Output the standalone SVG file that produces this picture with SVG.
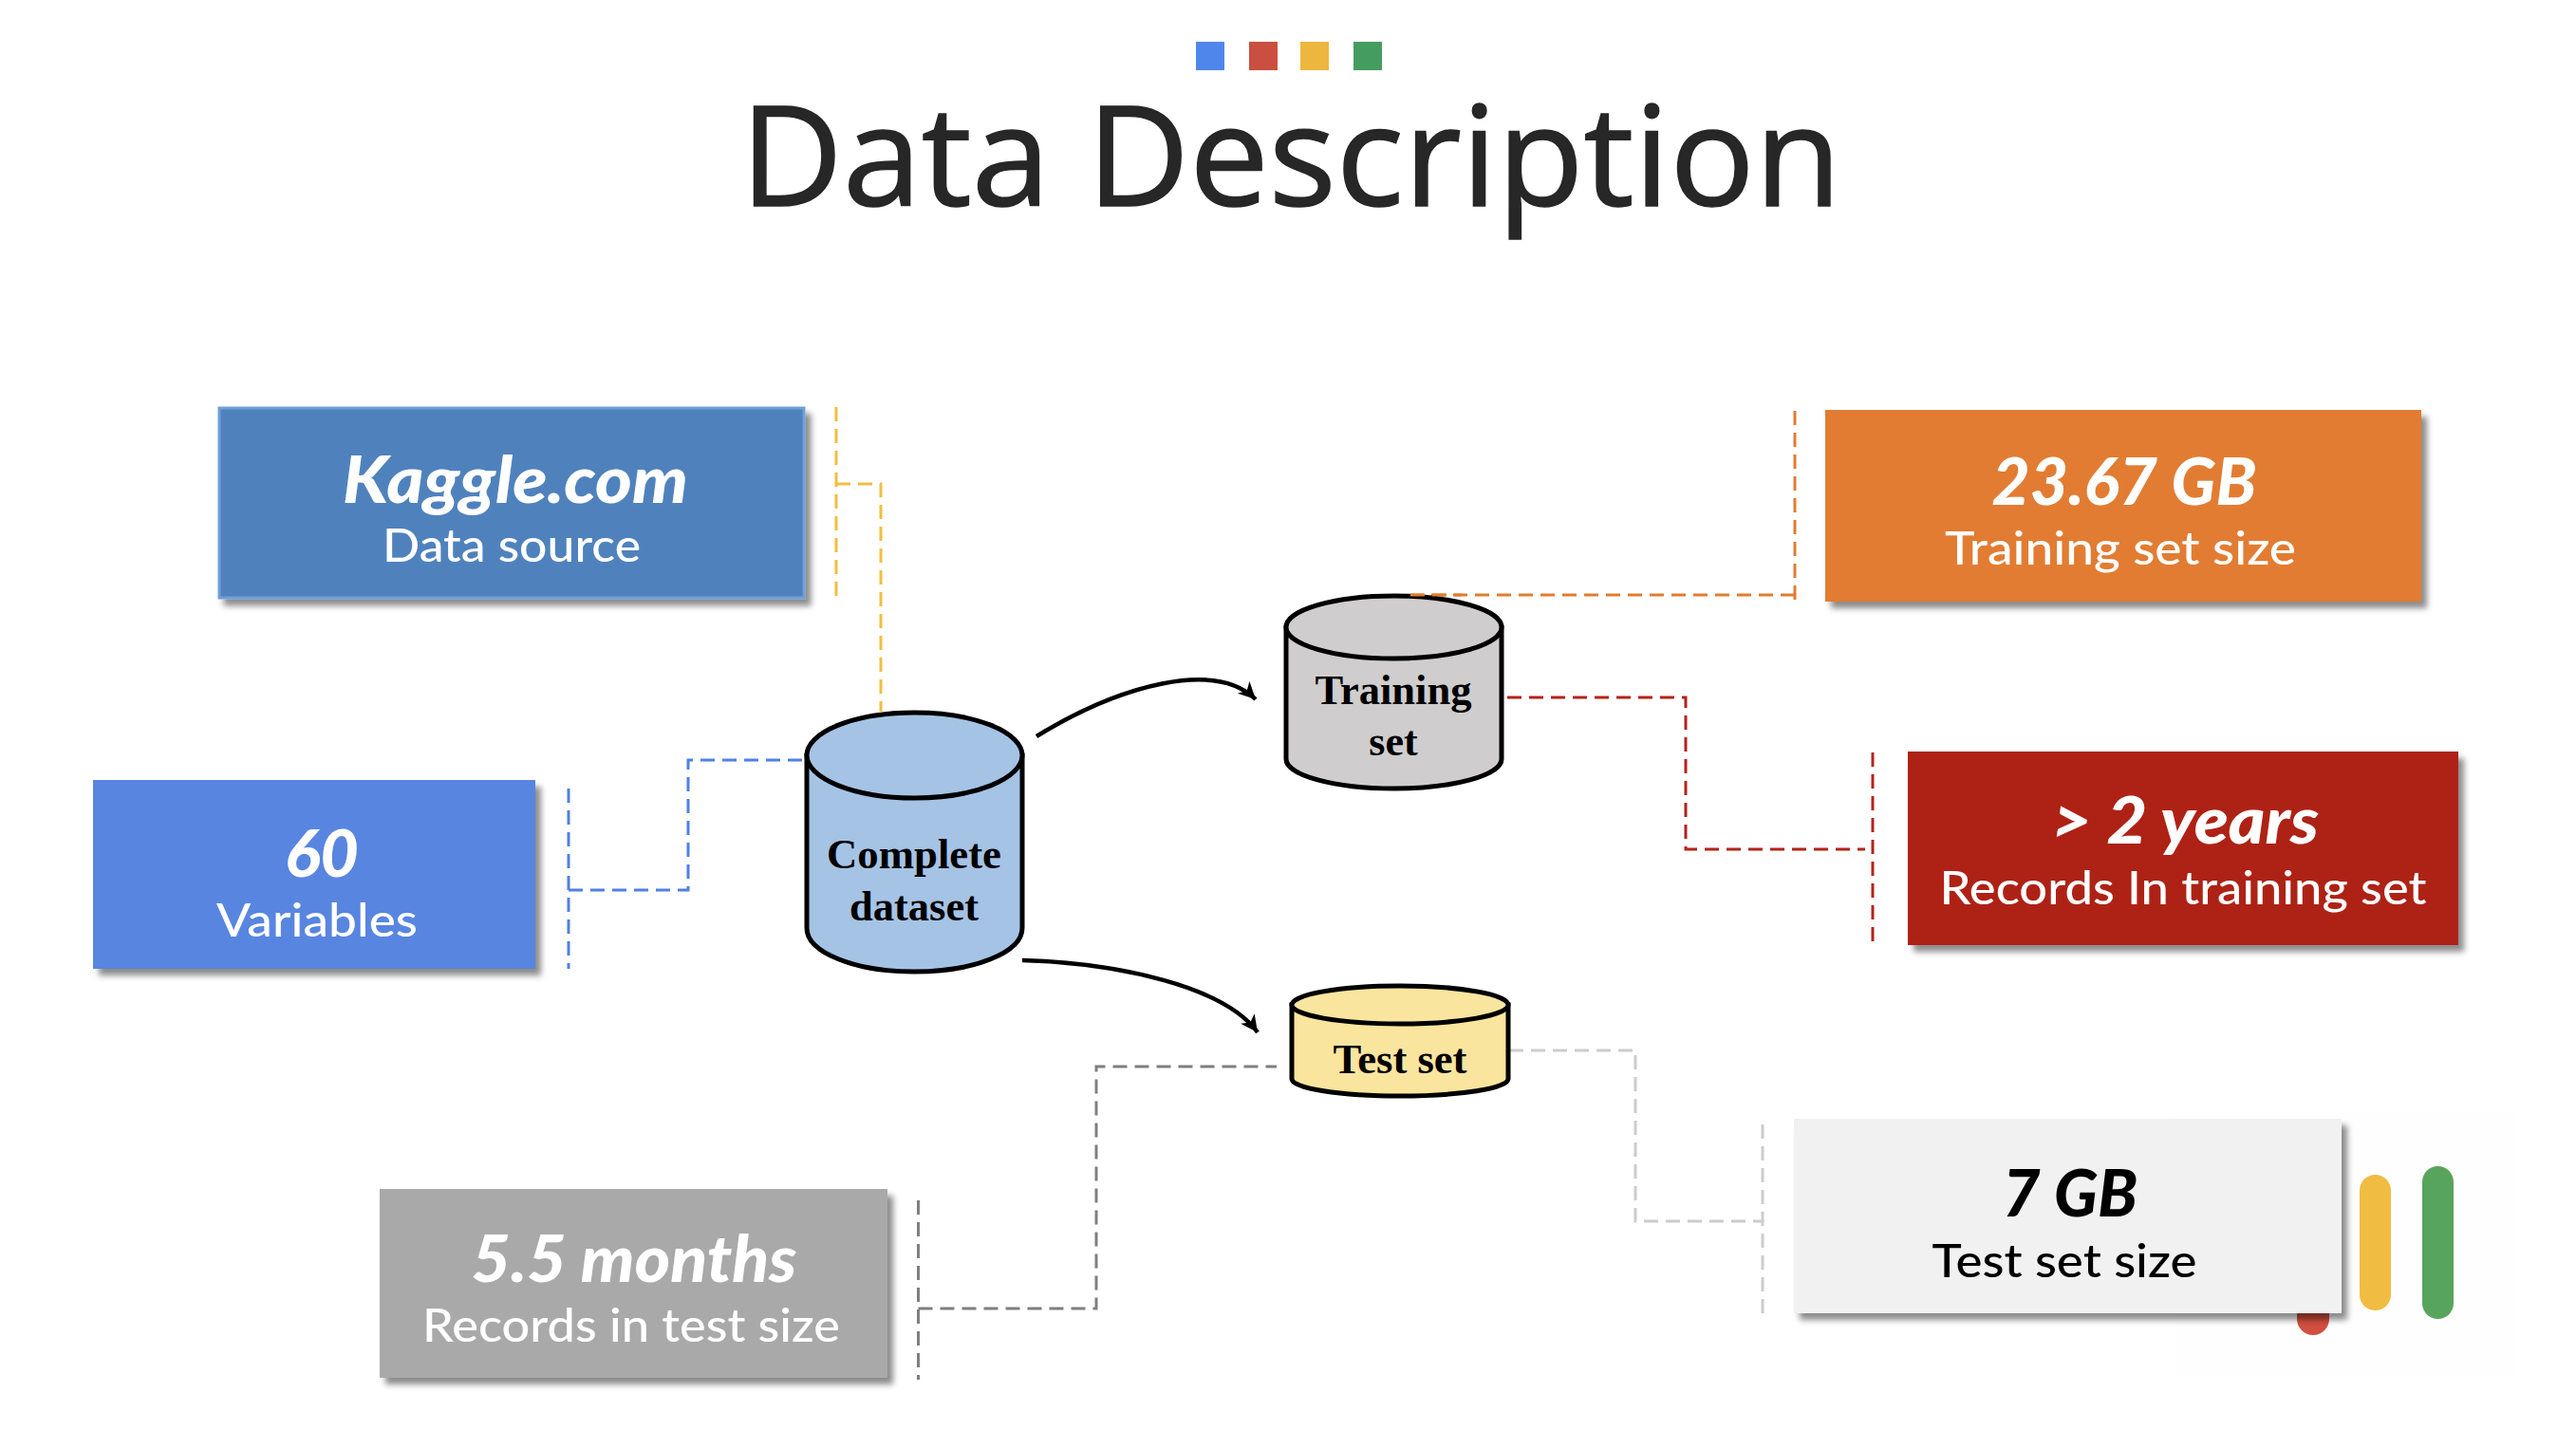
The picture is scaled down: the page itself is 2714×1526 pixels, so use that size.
<svg xmlns="http://www.w3.org/2000/svg" width="2714" height="1526" viewBox="0 0 2714 1526">
<style>
text{font-family:"Lato","Open Sans","Liberation Sans",sans-serif;text-anchor:middle}
.big{font-weight:900;font-style:italic;font-size:68px}
.sub{font-size:48px;font-weight:500}
.w{fill:#fff}.k{fill:#000}
.serif{font-family:"Liberation Serif",serif;font-weight:700;font-size:44px;fill:#000}
.cyl{stroke:#000;stroke-width:5}
.d{fill:none;stroke-width:3;stroke-dasharray:15 8}
.arrow{fill:none;stroke:#000;stroke-width:4.5;marker-end:url(#ah)}
</style>
<defs>
<filter id="sh" x="-5%" y="-5%" width="115%" height="120%"><feDropShadow dx="6" dy="7" stdDeviation="3" flood-color="#000" flood-opacity=".45"/></filter>
<marker id="ah" markerUnits="userSpaceOnUse" markerWidth="22" markerHeight="22" refX="18" refY="9" orient="auto"><path d="M0 0L18 9L0 18L5 9Z" fill="#000"/></marker>
</defs>
<rect width="2714" height="1526" fill="#fff"/>
<g id="title">
<rect x="1260" y="44" width="30" height="30" fill="#4f86ec"/>
<rect x="1316" y="44" width="30" height="30" fill="#cb4f41"/>
<rect x="1370" y="44" width="30" height="30" fill="#edb63f"/>
<rect x="1426" y="44" width="30" height="30" fill="#459c60"/>
<text x="1360" y="217" style="font-family:'Open Sans','Noto Sans',sans-serif" font-size="146" fill="#272727" stroke="#272727" stroke-width="1.5" textLength="1160" lengthAdjust="spacingAndGlyphs">Data Description</text>
</g>
<g id="logo">
<rect x="2291" y="1172" width="358" height="277" fill="#fefefe"/>
<rect x="2420" y="1250" width="34" height="157" rx="17" fill="#d14f3f"/>
<rect x="2486" y="1238" width="33" height="143" rx="16.5" fill="#f0bc42"/>
<rect x="2552" y="1229" width="33" height="161" rx="16.5" fill="#57a55c"/>
</g>
<g id="connectors">
<path class="d" stroke="#f3bd3f" d="M881 429V630"/>
<path class="d" stroke="#f3bd3f" d="M881 510H928V750"/>
<path class="d" stroke="#4f80e6" d="M599 831V1021"/>
<path class="d" stroke="#4f80e6" d="M599 938H725V801H849"/>
<path class="d" stroke="#e27c31" d="M1891 433V634"/>
<path class="d" stroke="#e27c31" d="M1891 627H1486"/>
<path class="d" stroke="#b3231a" d="M1588 735H1776V895H1965"/>
<path class="d" stroke="#b3231a" d="M1973 793V994"/>
<path class="d" stroke="#cccccc" d="M1590 1107H1723V1287H1857"/>
<path class="d" stroke="#cccccc" d="M1857 1185V1387"/>
<path class="d" stroke="#7f7f7f" d="M967.5 1265V1454"/>
<path class="d" stroke="#7f7f7f" d="M967.5 1379H1155V1124H1345"/>
<path class="arrow" d="M1092 776C1180 722 1280 695 1323 737"/>
<path class="arrow" d="M1077 1012C1180 1015 1290 1040 1325 1088"/>
</g>
<g id="kaggle"><rect x="231" y="430" width="616" height="200" fill="#4f82bd" stroke="#6f9fd8" stroke-width="3" filter="url(#sh)"/>
<text class="big w" x="543" y="530" textLength="364" lengthAdjust="spacingAndGlyphs">Kaggle.com</text>
<text class="sub w" x="539" y="592" textLength="272" lengthAdjust="spacingAndGlyphs">Data source</text></g>
<g id="variables"><rect x="98" y="822" width="466" height="199" fill="#5885e0" filter="url(#sh)"/>
<text class="big w" x="339" y="924" textLength="78" lengthAdjust="spacingAndGlyphs">60</text>
<text class="sub w" x="334" y="987" textLength="212" lengthAdjust="spacingAndGlyphs">Variables</text></g>
<g id="training-size"><rect x="1923" y="432" width="628" height="202" fill="#e27c31" filter="url(#sh)"/>
<text class="big w" x="2238" y="532" textLength="279" lengthAdjust="spacingAndGlyphs">23.67 GB</text>
<text class="sub w" x="2234" y="595" textLength="370" lengthAdjust="spacingAndGlyphs">Training set size</text></g>
<g id="years"><rect x="2010" y="792" width="580" height="204" fill="#ae2318" filter="url(#sh)"/>
<text class="big w" x="2302" y="889" textLength="282" lengthAdjust="spacingAndGlyphs">&gt; 2 years</text>
<text class="sub w" x="2300" y="953" textLength="513" lengthAdjust="spacingAndGlyphs">Records In training set</text></g>
<g id="test-size"><rect x="1890" y="1179" width="577" height="205" fill="#f1f1f1" filter="url(#sh)"/>
<text class="big k" x="2181" y="1282" textLength="142" lengthAdjust="spacingAndGlyphs">7 GB</text>
<text class="sub k" x="2175" y="1346" textLength="279" lengthAdjust="spacingAndGlyphs">Test set size</text></g>
<g id="months"><rect x="400" y="1253" width="535" height="199" fill="#aaa9a9" filter="url(#sh)"/>
<text class="big w" x="668" y="1351" textLength="343" lengthAdjust="spacingAndGlyphs">5.5 months</text>
<text class="sub w" x="665" y="1414" textLength="440" lengthAdjust="spacingAndGlyphs">Records in test size</text></g>
<g id="complete"><path class="cyl" fill="#a5c3e5" d="M850 796V978C850 1004 901 1024 963.5 1024S1077 1004 1077 978V796Z"/>
<ellipse class="cyl" fill="#a5c3e5" cx="963.5" cy="796" rx="113.5" ry="45"/>
<text class="serif" x="963" y="915" textLength="184" lengthAdjust="spacingAndGlyphs">Complete</text><text class="serif" x="963" y="970" textLength="136" lengthAdjust="spacingAndGlyphs">dataset</text></g>
<g id="training"><path class="cyl" fill="#cfcdcd" d="M1355 661V800C1355 817 1406 831 1468.5 831S1582 817 1582 800V661Z"/>
<ellipse class="cyl" fill="#cfcdcd" cx="1468.5" cy="661" rx="113.5" ry="33"/>
<text class="serif" x="1468" y="742" textLength="165" lengthAdjust="spacingAndGlyphs">Training</text><text class="serif" x="1468" y="796">set</text></g>
<g id="test"><path class="cyl" fill="#fae59f" d="M1361 1059V1137C1361 1147 1412 1155 1475 1155S1589 1147 1589 1137V1059Z"/>
<ellipse class="cyl" fill="#fae59f" cx="1475" cy="1059" rx="114" ry="20"/>
<text class="serif" x="1475" y="1131" textLength="141" lengthAdjust="spacingAndGlyphs">Test set</text></g>
<path class="d" stroke="#e27c31" d="M1486 627H1540"/>
</svg>
